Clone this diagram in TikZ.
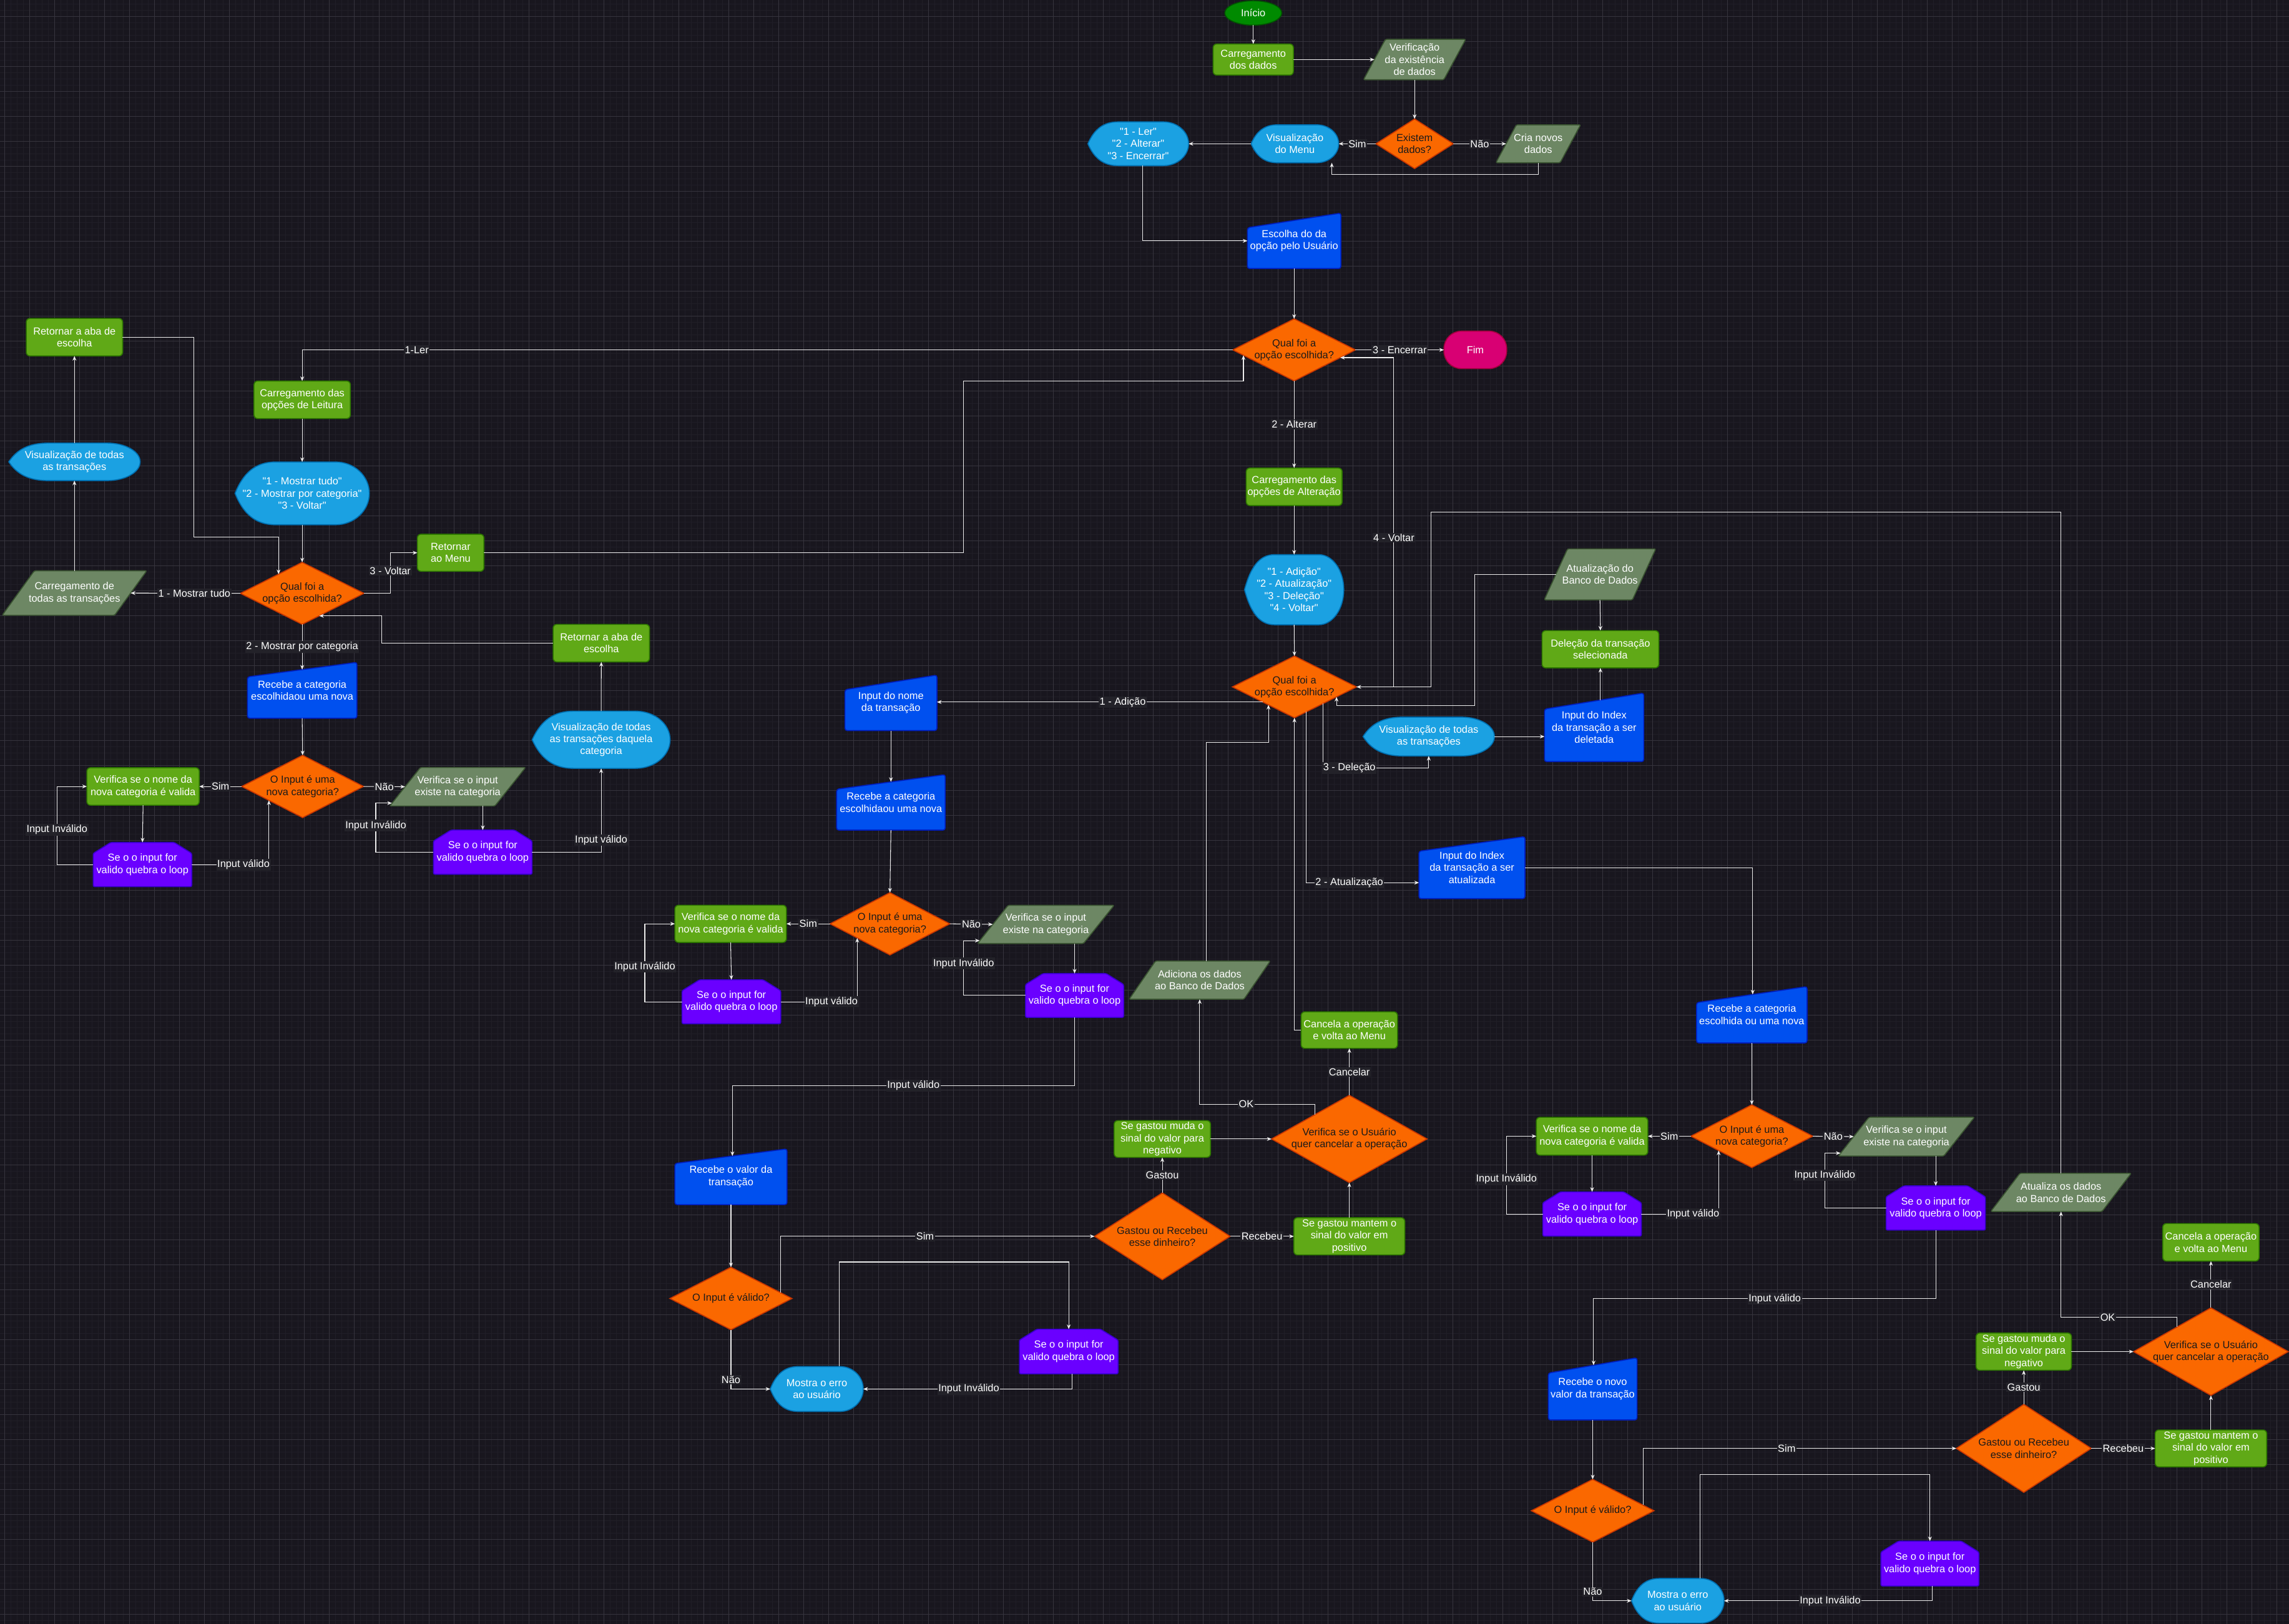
\documentclass[tikz,border=0pt]{standalone}
\usepackage{fontspec}
\setmainfont{Liberation Sans}[Ligatures=TeXOff]
\usetikzlibrary{shapes.geometric,arrows.meta,calc}
\definecolor{bgc}{HTML}{18161E}
\definecolor{gminor}{HTML}{201E27}
\definecolor{gmajor}{HTML}{36343D}
\definecolor{cgreen}{HTML}{60A917}
\definecolor{cgreenD}{HTML}{2D7600}
\definecolor{cdata}{HTML}{6D8764}
\definecolor{cdataD}{HTML}{3A5431}
\definecolor{corange}{HTML}{FA6800}
\definecolor{corangeD}{HTML}{C73500}
\definecolor{cdisp}{HTML}{1BA1E2}
\definecolor{cdispD}{HTML}{006EAF}
\definecolor{cman}{HTML}{0050EF}
\definecolor{cmanD}{HTML}{001DBC}
\definecolor{cpur}{HTML}{6A00FF}
\definecolor{cpurD}{HTML}{3700CC}
\definecolor{cstart}{HTML}{008A00}
\definecolor{cstartD}{HTML}{005700}
\definecolor{cend}{HTML}{D80073}
\definecolor{cendD}{HTML}{A50040}
\definecolor{cline}{HTML}{EDEDED}
\definecolor{lblbg}{HTML}{232229}
\definecolor{cdtxt}{HTML}{1A1A1A}
\newcommand\nfs{\fontsize{7}{8.3}\selectfont}
\tikzset{
  txt/.style={inner sep=0pt, outer sep=0pt, align=center, text=white, font=\nfs},
  proc/.style={txt, rectangle, rounded corners=2.5pt, fill=cgreen, draw=cgreenD, line width=0.7pt},
  dec/.style={diamond, inner sep=0pt, outer sep=0pt, fill=corange, draw=corangeD, line width=0.7pt},
  dtxt/.style={txt, text=cdtxt},
  lbl/.style={txt, fill=lblbg, inner sep=0.7pt},
  arr/.style={draw=cline, line width=0.45pt, -{Stealth[length=3.2pt,width=2.6pt]}},
}
% name, x, y, w, h, slant, text
\newcommand\ParBox[7]{%
  \filldraw[fill=cdata, draw=cdataD, line width=0.7pt, rounded corners=1pt]
    ({#2-#4/2+#6},{#3-#5/2}) -- ({#2+#4/2},{#3-#5/2}) -- ({#2+#4/2-#6},{#3+#5/2}) -- ({#2-#4/2},{#3+#5/2}) -- cycle;
  \node[txt, minimum width=#4pt, minimum height=#5pt] (#1) at (#2,#3) {#7};}
% name, x, y, w, h, text
\newcommand\Disp[6]{%
  \filldraw[fill=cdisp, draw=cdispD, line width=0.7pt]
    ({#2-#4/2},{#3})
    .. controls ({#2-#4/2+0.06*#4},{#3-0.32*#5}) and ({#2-#4/2+0.15*#4},{#3-#5/2}) .. ({#2-#4/2+0.3*#4},{#3-#5/2})
    -- ({#2+#4/2-0.25*#4},{#3-#5/2})
    .. controls ({#2+#4/2-0.112*#4},{#3-#5/2}) and ({#2+#4/2},{#3-0.276*#5}) .. ({#2+#4/2},{#3})
    .. controls ({#2+#4/2},{#3+0.276*#5}) and ({#2+#4/2-0.112*#4},{#3+#5/2}) .. ({#2+#4/2-0.25*#4},{#3+#5/2})
    -- ({#2-#4/2+0.3*#4},{#3+#5/2})
    .. controls ({#2-#4/2+0.15*#4},{#3+#5/2}) and ({#2-#4/2+0.06*#4},{#3+0.32*#5}) .. ({#2-#4/2},{#3})
    -- cycle;
  \node[txt, minimum width=#4pt, minimum height=#5pt] (#1) at (#2,#3) {#6};}
% name, x, y, w, h, dy, text
\newcommand\ManIn[7]{%
  \filldraw[fill=cman, draw=cmanD, line width=0.7pt, rounded corners=1.5pt]
    ({#2-#4/2},{#3-#5/2+#6}) -- ({#2+#4/2},{#3-#5/2}) -- ({#2+#4/2},{#3+#5/2}) -- ({#2-#4/2},{#3+#5/2}) -- cycle;
  \node[txt, minimum width=#4pt, minimum height=#5pt] (#1) at (#2,#3) {#7};}
% name, x, y, w, h, text
\newcommand\LoopBox[6]{%
  \filldraw[fill=cpur, draw=cpurD, line width=0.7pt, rounded corners=1pt]
    ({#2-#4/2+12},{#3-#5/2}) -- ({#2+#4/2-12},{#3-#5/2}) -- ({#2+#4/2},{#3-#5/2+7.5}) -- ({#2+#4/2},{#3+#5/2})
    -- ({#2-#4/2},{#3+#5/2}) -- ({#2-#4/2},{#3-#5/2+7.5}) -- cycle;
  \node[txt, minimum width=#4pt, minimum height=#5pt] (#1) at (#2,#3) {#6};}
% name, x, y, w, h, text
\newcommand\Dec[6]{%
  \node[dec, minimum width=#4pt, minimum height=#5pt] (#1) at (#2,#3) {};
  \node[dtxt] (#1t) at (#1) {#6};}
\begin{document}
\begin{tikzpicture}[x=1pt, y=-1pt]
\useasboundingbox (0,0) rectangle (1568,1112.6);
\fill[bgc] (0,0) rectangle (1568,1112.6);
\draw[gminor, line width=0.4pt] foreach \i in {0,...,367} {({-1.156+\i*4.276},0) -- ++(0,1112.6)};
\draw[gminor, line width=0.4pt] foreach \i in {0,...,260} {(0,{2.698+\i*4.276}) -- ++(1568,0)};
\draw[gmajor, line width=0.45pt] foreach \i in {0,...,91} {({3.12+\i*17.104},0) -- ++(0,1112.6)};
\draw[gmajor, line width=0.45pt] foreach \i in {0,...,64} {(0,{11.25+\i*17.104}) -- ++(1568,0)};

% ---------------- top ----------------
\node[txt, ellipse, fill=cstart, draw=cstartD, line width=0.7pt, minimum width=39pt, minimum height=16.7pt] (inicio) at (858.5,8.9) {Início};
\node[proc, minimum width=55pt, minimum height=21.3pt] (carreg) at (858.5,40.8) {Carregamento\\dos dados};
\ParBox{verif}{969}{40.8}{70}{27.7}{15}{Verificação\\da existência\\de dados}
\Dec{existem}{969}{98.5}{53}{34}{Existem\\dados?}
\ParBox{cria}{1053.7}{98.5}{58}{26}{14}{Cria novos\\dados}
\Disp{menu}{887}{98.5}{60}{26}{Visualização\\do Menu}
\Disp{opt1}{779.7}{98.5}{69}{30}{"1 - Ler"\\"2 - Alterar"\\"3 - Encerrar"}
\ManIn{esc}{886.5}{165}{64}{38}{10}{Escolha do da\\opção pelo Usuário}
\Dec{d9}{886.5}{239.7}{84}{42.5}{Qual foi a\\opção escolhida?}
\node[txt, rectangle, rounded corners=12pt, fill=cend, draw=cendD, line width=0.7pt, minimum width=43pt, minimum height=25.7pt] (fim) at (1010.6,239.7) {Fim};

% ---------------- left (Ler) ----------------
\node[proc, minimum width=66pt, minimum height=25.7pt] (r11) at (51,231) {Retornar a aba de\\escolha};
\node[proc, minimum width=66pt, minimum height=25.7pt] (c12) at (207,273.9) {Carregamento das\\opções de Leitura};
\Disp{menuL}{207}{338}{92}{43}{"1 - Mostrar tudo"\\"2 - Mostrar por categoria"\\"3 - Voltar"}
\Disp{v14}{51}{316.4}{90}{25.7}{Visualização de todas\\as transações}
\Dec{d15}{207}{406.5}{84.6}{42.5}{Qual foi a\\opção escolhida?}
\node[proc, minimum width=45.6pt, minimum height=25.4pt] (r16) at (308.7,378.7) {Retornar\\ao Menu};
\ParBox{p17}{51}{406.3}{99}{30.5}{22}{Carregamento de\\todas as transações}
\ManIn{m18}{207}{472.9}{75}{38.3}{10}{Recebe a categoria\\escolhidaou uma nova}
\node[proc, minimum width=66pt, minimum height=25.7pt] (r19) at (411.9,440.6) {Retornar a aba de\\escolha};
\Dec{d20}{207.3}{538.8}{83.4}{42.7}{O Input é uma\\nova categoria?}
\node[proc, minimum width=77pt, minimum height=25.7pt] (v21) at (98,538.8) {Verifica se o nome da\\nova categoria é valida};
\ParBox{p22}{313.5}{539}{93}{26.4}{21}{Verifica se o input\\existe na categoria}
\LoopBox{l23}{97.6}{592.3}{67.5}{30.3}{Se o o input for\\valido quebra o loop}
\LoopBox{l24}{330.7}{583.8}{67.5}{30.3}{Se o o input for\\valido quebra o loop}
\Disp{v25}{411.8}{506.8}{94.5}{39.2}{Visualização de todas\\as transações daquela\\categoria}

% ---------------- middle (Alterar) ----------------
\node[proc, minimum width=65.7pt, minimum height=25.7pt] (c26) at (886.5,333.5) {Carregamento das\\opções de Alteração};
\Disp{v27}{886.5}{404}{68}{48}{"1 - Adição"\\"2 - Atualização"\\"3 - Deleção"\\"4 - Voltar"}
\Dec{d28}{886.7}{470.6}{85}{42.3}{Qual foi a\\opção escolhida?}
\ParBox{p29}{1096}{393.5}{76.4}{35}{16}{Atualização do\\Banco de Dados}
\node[proc, minimum width=80pt, minimum height=25.5pt] (r30) at (1096.3,444.8) {Deleção da transação\\selecionada};
\ManIn{m31}{1092}{498.3}{68}{47}{11}{Input do Index\\da transação a ser\\deletada}
\Disp{v32}{978.7}{504.6}{90}{26.6}{Visualização de todas\\as transações}
\ManIn{m33}{610.3}{481.5}{63}{38}{10}{Input do nome\\da transação}
\ManIn{m34}{1008.3}{594.4}{72.6}{42.5}{10}{Input do Index\\da transação a ser\\atualizada}
\ManIn{m35}{610.3}{549.7}{74.4}{38}{10}{Recebe a categoria\\escolhidaou uma nova}
\Dec{d36}{609.6}{632.9}{82}{42.7}{O Input é uma\\nova categoria?}
\node[proc, minimum width=76.4pt, minimum height=25.5pt] (v37) at (500.5,632.9) {Verifica se o nome da\\nova categoria é valida};
\ParBox{p38}{716.4}{633.3}{93.6}{26.2}{21}{Verifica se o input\\existe na categoria}
\LoopBox{l39}{501}{686.3}{67.6}{30.1}{Se o o input for\\valido quebra o loop}
\LoopBox{l40}{736.1}{682}{67.2}{30.1}{Se o o input for\\valido quebra o loop}
\ManIn{m41}{500.7}{806.2}{76.8}{38.2}{10}{Recebe o valor da\\transação}
\ParBox{p42}{821.8}{671.5}{96.6}{26.2}{18}{Adiciona os dados\\ao Banco de Dados}
\node[proc, minimum width=66pt, minimum height=25pt] (r43) at (924.3,705.7) {Cancela a operação\\e volta ao Menu};
\Dec{d44}{924.3}{780.3}{106.5}{59.8}{Verifica se o Usuário\\quer cancelar a operação}
\node[proc, minimum width=66pt, minimum height=25.2pt] (r45) at (796.2,780.3) {Se gastou muda o\\sinal do valor para\\negativo};
\Dec{d46}{796.2}{847}{92.8}{59.5}{Gastou ou Recebeu\\esse dinheiro?}
\node[proc, minimum width=76pt, minimum height=25.5pt] (r47) at (924.3,847) {Se gastou mantem o\\sinal do valor em\\positivo};
\Dec{d48}{500.7}{889.6}{83.6}{42.8}{O Input é válido?}
\Disp{v49}{559.5}{951.6}{63.7}{30.8}{Mostra o erro\\ao usuário}
\LoopBox{l50}{732.1}{925.9}{67.6}{30.6}{Se o o input for\\valido quebra o loop}

% ---------------- right (Atualizacao) ----------------
\ManIn{m51}{1200}{695.2}{75.7}{38.6}{11}{Recebe a categoria\\escolhida ou uma nova}
\Dec{d52}{1200}{778.4}{83.5}{43}{O Input é uma\\nova categoria?}
\node[proc, minimum width=76.4pt, minimum height=25.9pt] (v53) at (1090.6,778.4) {Verifica se o nome da\\nova categoria é valida};
\ParBox{p54}{1305.9}{778.7}{93.2}{26.6}{21}{Verifica se o input\\existe na categoria}
\LoopBox{l55}{1090.6}{831.7}{67.5}{30.3}{Se o o input for\\valido quebra o loop}
\LoopBox{l56}{1326}{827.6}{68}{30.3}{Se o o input for\\valido quebra o loop}
\ManIn{m57}{1091}{951.5}{60.8}{42.6}{10.5}{Recebe o novo\\valor da transação}
\ParBox{p58}{1411.8}{816.9}{96.2}{26.2}{20}{Atualiza os dados\\ao Banco de Dados}
\node[proc, minimum width=66pt, minimum height=25.7pt] (r59) at (1514.5,851.1) {Cancela a operação\\e volta ao Menu};
\Dec{d60}{1514.5}{926}{106}{60}{Verifica se o Usuário\\quer cancelar a operação}
\node[proc, minimum width=65.3pt, minimum height=25.5pt] (r61) at (1386.3,926) {Se gastou muda o\\sinal do valor para\\negativo};
\Dec{d62}{1386.3}{992.3}{92.4}{60.3}{Gastou ou Recebeu\\esse dinheiro?}
\node[proc, minimum width=76.4pt, minimum height=25.3pt] (r63) at (1514.5,992.3) {Se gastou mantem o\\sinal do valor em\\positivo};
\Dec{d64}{1091}{1035}{84}{43}{O Input é válido?}
\Disp{v65}{1149.3}{1096.7}{63.4}{30.6}{Mostra o erro\\ao usuário}
\LoopBox{l66}{1322}{1071.2}{67.1}{30.7}{Se o o input for\\valido quebra o loop}

% ================= connectors =================
\draw[arr] (inicio) -- (carreg);
\draw[arr] (carreg.east) -- ($(verif.west)+(7.5,0)$);
\draw[arr] (verif.south) -- (existem.north);
\draw[arr] (existem.west) -- node[lbl] (tsim1) {Sim} (menu.east);
\draw[arr] (existem.east) -- node[lbl] (tnao1) {Não} ($(cria.west)+(7,0)$);
\draw[arr] (cria.south) -- ++(0,8.1) -| ($(menu.south)+(25.3,0)$);
\draw[arr] (menu.west) -- (opt1.east);
\draw[arr] ($(opt1.south)+(3,0)$) |- (esc.west);
\draw[arr] (esc.south) -- (d9.north);
\draw[arr] (d9.east) -- node[lbl] (tenc) {3 - Encerrar} (fim.west);
\draw[arr] (d9.west) -| (c12.north);
\node[lbl] (tler) at (285.5,239.7) {1-Ler};
\draw[arr] (c12.south) -- (menuL.north);
\draw[arr] (menuL.south) -- (d15.north);
\draw[arr] (d15.west) -- node[lbl, pos=0.42] (tmt) {1 - Mostrar tudo} ($(p17.east)+(-11,0)$);
\draw[arr] (p17.north) -- (v14.south);
\draw[arr] (v14.north) -- (r11.south);
\draw[arr] (r11.east) -| (132.9,367.8) -| ($(d15.west)!0.617!(d15.north)$);
\draw[arr] (d15.east) -| (267.3,378.7) -- (r16.west);
\node[lbl] (tvol) at (267.3,391) {3 - Voltar};
\draw[arr] (r16.east) -| (660,261) -| ($(d9.west)!0.173!(d9.south)$);
\draw[arr] (d15.south) -- node[lbl] (tmpc) {2 - Mostrar por categoria} ($(m18.north)+(0,5)$);
\draw[arr] (m18.south) -- (d20.north);
\draw[arr] (d20.west) -- node[lbl] (tsim2) {Sim} (v21.east);
\draw[arr] (d20.east) -- node[lbl] (tnao2) {Não} ($(p22.west)+(10.5,0)$);
\draw[arr] (v21.south) -- (l23.north);
\draw[arr] (l23.west) -| (39,560) |- (v21.west);
\node[lbl] (tii1) at (39,568.4) {Input Inválido};
\draw[arr] (l23.east) -| ($(d20.west)!0.446!(d20.south)$);
\node[lbl] (tiv1) at (166.8,592.3) {Input válido};
\draw[arr] (p22.south -| l24.north) -- (l24.north);
\draw[arr] (l24.west) -| (257.4,565) |- ($(p22.south west)+(1.5,-2)$);
\node[lbl] (tii2) at (257.4,565.6) {Input Inválido};
\draw[arr] (l24.east) -| (v25.south);
\node[lbl] (tiv2) at (411.8,575.5) {Input válido};
\draw[arr] (v25.north) -- (r19.south);
\draw[arr] (r19.west) -| (261.3,430) |- ($(d15.east)!0.725!(d15.south)$);

\draw[arr] (d9.south) -- node[lbl] (talt) {2 - Alterar} (c26.north);
\draw[arr] (c26.south) -- (v27.north);
\draw[arr] (v27.south) -- (d28.north);
\draw[arr] (d28.east) -| (954.8,300) |- ($(d9.east)!0.25!(d9.south)$);
\node[lbl] (tvol2) at (954.8,368.3) {4 - Voltar};
\draw[arr] (p58.north) |- (980.4,350.7) |- (d28.east);
\draw[arr] ($(p29.west)+(8,0)$) -| (1010.2,483.2) -| ($(d28.east)!0.322!(d28.south)$);
\draw[arr] (p29.south) -- (r30.north);
\draw[arr] ($(m31.north -| r30.south)+(0,4.8)$) -- (r30.south);
\draw[arr] (v32.east) -- (v32.east -| m31.west);
\draw[arr] ($(d28.east)!0.539!(d28.south)$) |- ($(v32.south)+(0,8.3)$) -- (v32.south);
\node[lbl] (tdel) at (924.3,526.2) {3 - Deleção};
\coordinate (a1) at ($(d28.west)!0.49!(d28.south)$);
\draw[arr] (a1) -- node[lbl, pos=0.43] (tadi) {1 - Adição} (a1 -| m33.east);
\draw[arr] ($(d28.south)!0.193!(d28.east)$) |- ($(m34.west)+(0,10.3)$);
\node[lbl] (tatu) at (924.3,604.7) {2 - Atualização};
\draw[arr] (m33.south) -- ($(m35.north)+(0,5)$);
\draw[arr] (m35.south) -- (d36.north);
\draw[arr] (d36.west) -- node[lbl] (tsim3) {Sim} (v37.east);
\draw[arr] (d36.east) -- node[lbl] (tnao3) {Não} ($(p38.west)+(10.5,0)$);
\draw[arr] (v37.south) -- (l39.north);
\draw[arr] (l39.west) -| (441.7,660) |- (v37.west);
\node[lbl] (tii3) at (441.7,662.4) {Input Inválido};
\draw[arr] (l39.east) -| ($(d36.west)!0.454!(d36.south)$);
\node[lbl] (tiv3) at (569.6,686.3) {Input válido};
\draw[arr] (p38.south -| l40.north) -- (l40.north);
\draw[arr] (l40.west) -| (660.1,660) |- ($(p38.south west)+(1.5,-2)$);
\node[lbl] (tii4) at (660.1,660.1) {Input Inválido};
\draw[arr] (l40.south) -- ++(0,46.6) -| ($(m41.north)+(1,4.9)$);
\node[lbl] (tiv4) at (625.7,743.7) {Input válido};
\draw[arr] (m41.south) -- (d48.north);
\draw[arr] ($(d48.north)!0.818!(d48.east)$) |- (d46.west);
\node[lbl] (tsim4) at (633.7,847) {Sim};
\draw[arr] (d48.south) |- (v49.west);
\node[lbl] (tnao4) at (500.7,945.1) {Não};
\draw[arr] ($(v49.north)+(15.4,0)$) |- ($(l50.north)+(0,-46)$) -- (l50.north);
\draw[arr] ($(l50.south)+(2.2,0)$) |- (v49.east);
\node[lbl] (tii5) at (663.6,951.6) {Input Inválido};
\draw[arr] (d46.north) -- node[lbl] (tgas1) {Gastou} (r45.south);
\draw[arr] (r45.east) -- (d44.west);
\draw[arr] (d46.east) -- node[lbl] (trec1) {Recebeu} (r47.west);
\draw[arr] (r47.north) -- (d44.south);
\draw[arr] (d44.north) -- node[lbl] (tcan1) {Cancelar} (r43.south);
\draw[arr] ($(d44.west)!0.56!(d44.north)$) |- ($(p42.south)+(0,71.9)$) -- (p42.south);
\node[lbl] (tok1) at (853.7,756.5) {OK};
\draw[arr] ($(p42.north)+(4.4,0)$) |- ($(d28.west)!0.581!(d28.south)+(0,25.8)$) -- ($(d28.west)!0.581!(d28.south)$);
\draw[arr] (r43.west) -| (d28.south);

\draw[arr] (m34.east) -| ($(m51.north)+(0.6,5.4)$);
\draw[arr] (m51.south) -- (d52.north);
\draw[arr] (d52.west) -- node[lbl] (tsim5) {Sim} (v53.east);
\draw[arr] (d52.east) -- node[lbl] (tnao5) {Não} ($(p54.west)+(10.5,0)$);
\draw[arr] (v53.south) -- (l55.north);
\draw[arr] (l55.west) -| (1031.9,805) |- (v53.west);
\node[lbl] (tii6) at (1031.9,807.9) {Input Inválido};
\draw[arr] (l55.east) -| ($(d52.west)!0.456!(d52.south)$);
\node[lbl] (tiv6) at (1159.8,831.7) {Input válido};
\draw[arr] (p54.south -| l56.north) -- (l56.north);
\draw[arr] (l56.west) -| (1250,805) |- ($(p54.south west)+(1.5,-2)$);
\node[lbl] (tii7) at (1250,805.1) {Input Inválido};
\draw[arr] (l56.south) -- ++(0,46.9) -| ($(m57.north)+(0.6,5.1)$);
\node[lbl] (tiv7) at (1215.7,889.7) {Input válido};
\draw[arr] (m57.south) -- (d64.north);
\draw[arr] ($(d64.north)!0.82!(d64.east)$) |- (d62.west);
\node[lbl] (tsim6) at (1223.9,992.3) {Sim};
\draw[arr] (d64.south) |- (v65.west);
\node[lbl] (tnao6) at (1091,1090.4) {Não};
\draw[arr] ($(v65.north)+(15.3,0)$) |- ($(l66.north)+(0,-45.7)$) -- (l66.north);
\draw[arr] ($(l66.south)+(1.8,0)$) |- (v65.east);
\node[lbl] (tii8) at (1253.7,1096.7) {Input Inválido};
\draw[arr] (d62.north) -- node[lbl] (tgas2) {Gastou} (r61.south);
\draw[arr] (r61.east) -- (d60.west);
\draw[arr] (d62.east) -- node[lbl] (trec2) {Recebeu} (r63.west);
\draw[arr] (r63.north) -- (d60.south);
\draw[arr] (d60.north) -- node[lbl] (tcan2) {Cancelar} (r59.south);
\draw[arr] ($(d60.west)!0.56!(d60.north)$) |- ($(p58.south)+(0,72.5)$) -- (p58.south);
\node[lbl] (tok2) at (1443.8,902.5) {OK};
\end{tikzpicture}
\end{document}
